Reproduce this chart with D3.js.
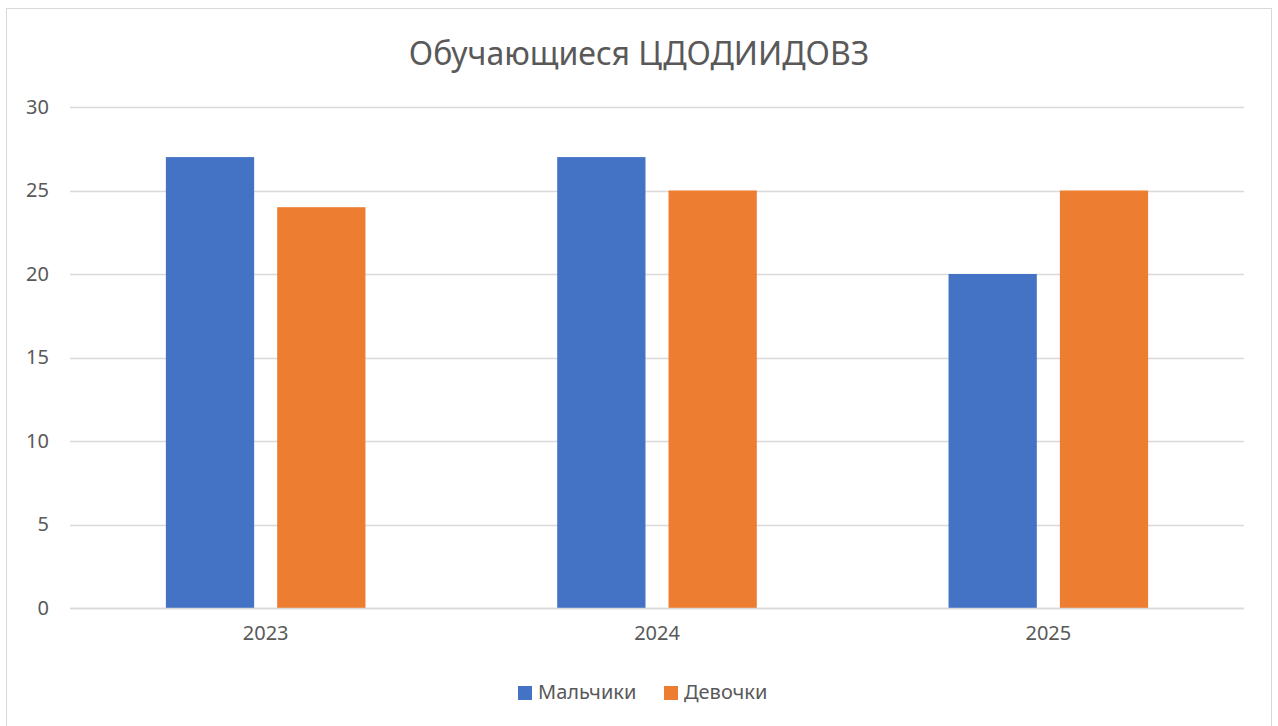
<!DOCTYPE html>
<html>
<head>
<meta charset="utf-8">
<script src="https://cdn.jsdelivr.net/npm/d3@7"></script>
<style>
  body { margin: 0; background: #fff; }
  text { font-family: "Noto Sans", "Open Sans", sans-serif; fill: #595959; }
</style>
</head>
<body>
<div id="chart"></div>
<script>
// chart data
var years = ["2023", "2024", "2025"];
var seriesNames = ["Мальчики", "Девочки"];
var boys = [27, 27, 20];
var girls = [24, 25, 25];
var yTicks = [0, 5, 10, 15, 20, 25, 30];
var colors = ["#4472c4", "#ed7d31"];
var title = "Обучающиеся ЦДОДИИДОВЗ";

var width = 1278,
    height = 726,
    margin = {top: 107, right: 34, bottom: 118, left: 70};

var svg = d3.select("#chart").append("svg")
    .attr("width", width)
    .attr("height", height);

// outer frame
svg.append("rect")
    .attr("x", 6.5).attr("y", 8.5)
    .attr("width", 1265).attr("height", 730)
    .attr("fill", "#fff")
    .attr("stroke", "#d9d9d9");

var x0 = d3.scaleBand().domain(years)
    .range([margin.left, width - margin.right])
    .padding(0);

// bars sit in the middle of each category band
var bw = x0.bandwidth();
var x1 = d3.scaleBand().domain(seriesNames)
    .range([bw * 0.245, bw * 0.755])
    .paddingInner(0.207);

var y = d3.scaleLinear().domain([0, 30])
    .range([height - margin.bottom, margin.top]);

// gridlines
svg.append("g").selectAll("line")
    .data(yTicks)
    .enter().append("line")
    .attr("x1", margin.left).attr("x2", width - margin.right)
    .attr("y1", function(d) { return Math.round(y(d)) + 0.5; })
    .attr("y2", function(d) { return Math.round(y(d)) + 0.5; })
    .attr("stroke", "#d9d9d9")
    .attr("stroke-width", 1.3);

// y axis labels
var yAxis = d3.axisLeft(y).tickValues(yTicks).tickSize(0).tickPadding(21);
var gy = svg.append("g")
    .attr("transform", "translate(" + margin.left + ",0)")
    .call(yAxis);
gy.select(".domain").remove();
gy.selectAll("text").style("font-size", "20px").attr("fill", "#595959");

// bars
var rows = years.map(function(yr, i) {
  return {year: yr, values: [boys[i], girls[i]]};
});

var groups = svg.append("g").selectAll("g")
    .data(rows)
    .enter().append("g")
    .attr("transform", function(d) { return "translate(" + x0(d.year) + ",0)"; });

groups.selectAll("rect")
    .data(function(d) {
      return d.values.map(function(v, j) { return {name: seriesNames[j], value: v, idx: j}; });
    })
    .enter().append("rect")
    .attr("x", function(d) { return x1(d.name); })
    .attr("width", x1.bandwidth())
    .attr("y", function(d) { return y(d.value); })
    .attr("height", function(d) { return y(0) - y(d.value); })
    .attr("fill", function(d) { return colors[d.idx]; });

// baseline
svg.append("line")
    .attr("x1", margin.left).attr("x2", width - margin.right)
    .attr("y1", Math.round(y(0)) + 0.5).attr("y2", Math.round(y(0)) + 0.5)
    .attr("stroke", "#d9d9d9")
    .attr("stroke-width", 1.5);

// x axis labels
var xAxis = d3.axisBottom(x0).tickSize(0).tickPadding(18);
var gx = svg.append("g")
    .attr("transform", "translate(0," + y(0) + ")")
    .call(xAxis);
gx.select(".domain").remove();
gx.selectAll("text").style("font-size", "20px").attr("fill", "#595959");

// title
svg.append("text")
    .attr("x", width / 2)
    .attr("y", 65)
    .attr("text-anchor", "middle")
    .style("font-size", "32px")
    .text(title);

// legend
var legendX = [518, 664];
var legend = svg.append("g").selectAll("g")
    .data(seriesNames)
    .enter().append("g")
    .attr("transform", function(d, i) { return "translate(" + legendX[i] + ",686)"; });

legend.append("rect")
    .attr("width", 14).attr("height", 14)
    .attr("fill", function(d, i) { return colors[i]; });

legend.append("text")
    .attr("x", 20).attr("y", 13)
    .style("font-size", "20px")
    .text(function(d) { return d; });
</script>
</body>
</html>
